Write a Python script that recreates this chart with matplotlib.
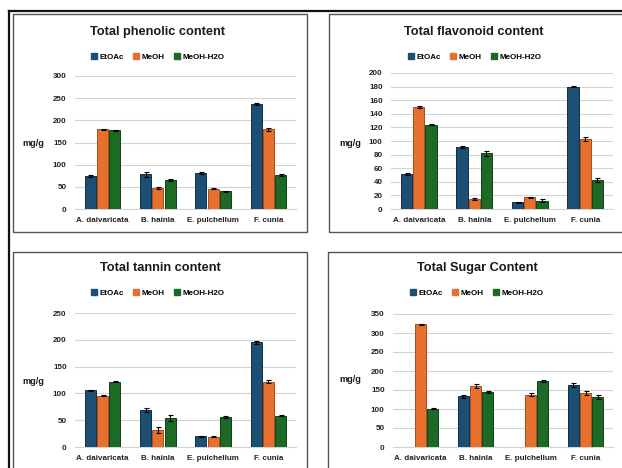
import numpy as np
import matplotlib.pyplot as plt
from matplotlib.patches import Rectangle
from matplotlib.lines import Line2D

W, H = 622, 468

categories = ["A. daivaricata", "B. hainla", "E. pulchellum", "F. cunia"]
solvents = ["EtOAc", "MeOH", "MeOH-H2O"]
colors = ["#1d4e74", "#e8702f", "#1c6a26"]
edges = ["#0f2e47", "#a84d1c", "#0e4214"]

# Total phenolic content
phenolic = [[75, 78, 82, 237], [180, 47, 46, 180], [178, 65, 40, 77]]
phenolic_err = [[2, 5, 2, 3], [1, 3, 2, 3], [1, 2, 1, 2]]
# Total flavonoid content
flavonoid = [[52, 91, 10, 180], [150, 15, 17, 103], [124, 82, 12, 43]]
flavonoid_err = [[1.5, 1.5, 1, 1], [1, 1.5, 1, 3], [1, 4, 2, 3]]
# Total tannin content
tannin = [[106, 69, 20, 195], [96, 32, 19, 122], [122, 54, 56, 58]]
tannin_err = [[1, 4, 1, 2], [1, 5, 1, 3], [1, 5, 2, 1]]
# Total sugar content (no EtOAc value for A. daivaricata and E. pulchellum)
sugar = [[np.nan, 133, np.nan, 163], [323, 160, 137, 143], [101, 144, 173, 132]]
sugar_err = [[np.nan, 4, np.nan, 6], [2, 5, 4, 5], [1, 3, 3, 5]]

plt.rcParams["font.family"] = ["Liberation Sans", "DejaVu Sans"]
plt.rcParams["font.weight"] = "bold"

fig = plt.figure(figsize=(W / 100, H / 100), dpi=100)


def frac(x0, y0, x1, y1):
    return [x0 / W, 1 - y1 / H, (x1 - x0) / W, (y1 - y0) / H]


# decoration: outer black lines and panel frames
deco = fig.add_axes([0, 0, 1, 1])
deco.set_xlim(0, W)
deco.set_ylim(H, 0)
deco.axis("off")
deco.plot([9, W], [11, 11], color="#111111", lw=1.6)
deco.plot([9, 9], [11, H], color="#111111", lw=1.6)
for (x0, y0, x1, y1) in [(13, 14, 307, 232), (329, 14, 660, 232),
                         (13, 252, 307, 490), (328, 252, 660, 490)]:
    deco.add_patch(Rectangle((x0, y0), x1 - x0, y1 - y0, fill=False,
                             edgecolor="#555555", lw=1.0))


def panel(rect, title, title_xy, leg_xy, data, err, ymax, step):
    ax = fig.add_axes(frac(*rect))
    x = np.arange(len(categories))
    bw = 0.2
    for i in range(3):
        pos = x + (i - 1) * (bw + 0.02)
        ax.bar(pos, data[i], bw, color=colors[i], edgecolor=edges[i],
               linewidth=0.7, zorder=3)
        ax.errorbar(pos, data[i], yerr=err[i], fmt="none", ecolor="black",
                    elinewidth=0.8, capsize=1.8, capthick=0.8, zorder=4)
    ax.set_xlim(-0.5, 3.5)
    ax.set_ylim(0, ymax)
    ax.set_yticks(np.arange(0, ymax + 1, step))
    ax.grid(axis="y", color="#d4d4d4", lw=0.8, zorder=0)
    for s in ["top", "right", "left"]:
        ax.spines[s].set_visible(False)
    ax.spines["bottom"].set_color("#d4d4d4")
    ax.tick_params(axis="both", length=0, labelsize=5.8, pad=6)
    ax.set_xticks(x)
    ax.set_xticklabels(categories)
    for lab in ax.get_xticklabels() + ax.get_yticklabels():
        lab.set_fontweight("bold")
        lab.set_color("#222222")
    fig.text(title_xy[0] / W, 1 - title_xy[1] / H, title, ha="center",
             va="center", fontsize=9.2, fontweight="bold", color="#1a1a1a")
    handles = [Line2D([], [], marker="s", ls="none", color=c, markersize=3.8)
               for c in colors]
    fig.legend(handles, solvents, loc="center",
               bbox_to_anchor=(leg_xy[0] / W, 1 - leg_xy[1] / H), ncol=3,
               frameon=False, fontsize=5.8, handlelength=0.6,
               handletextpad=0.3, columnspacing=1.3, borderpad=0)
    return ax


panel((75, 76, 296, 209), "Total phenolic content", (158, 32), (158, 57),
      phenolic, phenolic_err, 300, 50)
panel((391, 73, 613, 209), "Total flavonoid content", (474, 32), (475, 57),
      flavonoid, flavonoid_err, 200, 20)
panel((75, 313, 296, 447), "Total tannin content", (160, 268), (158, 293),
      tannin, tannin_err, 250, 50)
panel((393, 314, 613, 447), "Total Sugar Content", (477, 268), (477, 293),
      sugar, sugar_err, 350, 50)

for (mx, my) in [(33, 143), (350, 143), (33, 381), (350, 380)]:
    fig.text(mx / W, 1 - my / H, "mg/g", ha="center", va="center",
             fontsize=6.6, fontweight="bold", color="#1a1a1a")

fig.savefig("out.png", dpi=100, facecolor="white")
